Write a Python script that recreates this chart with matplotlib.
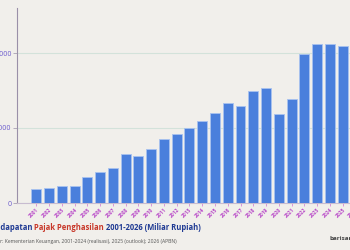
import matplotlib
matplotlib.use('agg')
from matplotlib import pyplot as plt

years = [str(y) for y in range(2001, 2027)]
pph = [91000, 98000, 111000, 116000, 171000, 207000, 235000, 325000, 313000, 358000,
       429000, 462000, 502000, 544000, 600000, 665000, 645000, 747000, 769000, 591000,
       696000, 996000, 1058000, 1058000, 1049000, 1209000]
y_ticks = [0, 500000, 1000000]
y_tick_labels = ['0', '500.000', '1.000.000']

BG = '#f1efeb'
BAR = '#4a7fdc'
plt.rcParams['font.family'] = ['Open Sans', 'DejaVu Sans']

fig = plt.figure(figsize=(3.5, 2.5), dpi=100, facecolor=BG)
# axes is wider than the figure: the picture is a crop of a larger chart
ax = fig.add_axes([17 / 350, 47 / 250, 360 / 350, 195 / 250], facecolor=BG)

x = list(range(len(years)))
ax.bar(x, pph, width=0.78, color=BAR, edgecolor='#a8c2ef', linewidth=0.6, zorder=3)
ax.set_xlim(-1.52, 26.7)
ax.set_ylim(0, 1300000)

ax.set_yticks(y_ticks)
ax.set_yticklabels(y_tick_labels)
ax.tick_params(axis='y', length=3, width=0.5, pad=1, labelsize=5, colors='#9a90a8', labelcolor='#6a5acd')
ax.set_xticks(x)
ax.set_xticklabels(years, rotation=45, ha='right', rotation_mode='anchor', fontweight='bold')
ax.tick_params(axis='x', length=2, width=0.5, pad=1, labelsize=3.6, colors='#d070d0', labelcolor='#b848c8')

ax.grid(axis='y', color='#d3e2da', linewidth=0.8, zorder=0)
for s in ['top', 'right']:
    ax.spines[s].set_visible(False)
ax.spines['left'].set_color('#9a90a8')
ax.spines['bottom'].set_color('#c8bcd0')
ax.spines['left'].set_linewidth(0.8)
ax.spines['bottom'].set_linewidth(0.8)

renderer = fig.canvas.get_renderer()


def text_width(s, **kw):
    t = fig.text(0, 0, s, **kw)
    w = t.get_window_extent(renderer=renderer).width
    t.remove()
    return w


# title in three coloured parts, placed one after another, "Pen" cut off on the left
tkw = dict(fontsize=5.5, fontweight='bold')
parts = [('Pendapatan ', '#1f3a93'), ('Pajak Penghasilan ', '#c8382a'), ('2001-2026 (Miliar Rupiah)', '#1f3a93')]
xpos = -text_width('Pen', **tkw)
for txt, col in parts:
    t = fig.text(xpos / 350, 1 - 228 / 250, txt, color=col, va='center', **tkw)
    xpos += t.get_window_extent(renderer=renderer).width

skw = dict(fontsize=3.6, color='#555555')
src = 'Sumber: Kementerian Keuangan, 2001-2024 (realisasi), 2025 (outlook); 2026 (APBN)'
fig.text(-text_width('Sumbe', **skw) / 350, 1 - 241 / 250, src, va='center', **skw)
fig.text(329 / 350, 1 - 239 / 250, 'barisan.co', fontsize=4.5, fontweight='bold', color='#444444', va='center')

fig.savefig('out.png', dpi=100, facecolor=BG)
